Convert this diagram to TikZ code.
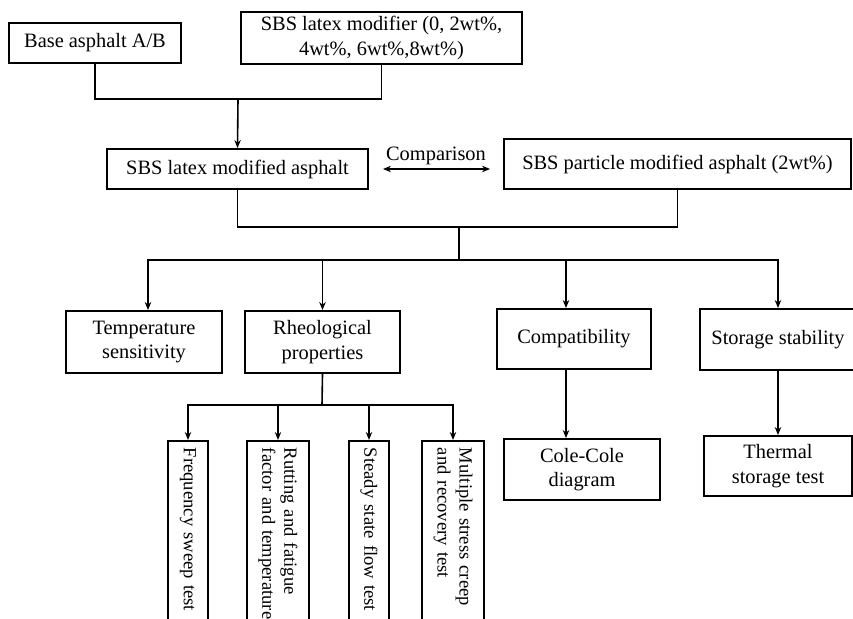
\documentclass[tikz,border=0pt]{standalone}
\usepackage{fontspec}
\setmainfont{Liberation Serif}
\usetikzlibrary{arrows.meta,calc}

\tikzset{
    box/.style={draw, line width=0.9pt, align=center, inner sep=2pt,
        font=\fontsize{10.2}{12.3}\selectfont},
    vbox/.style={draw, line width=0.9pt, rotate=-90, anchor=west, align=left,
        inner xsep=3.5pt, inner ysep=1pt, text width=93pt, minimum width=100pt,
        font=\fontsize{9.3}{11}\selectfont},
    link/.style={line width=0.8pt},
    arr/.style={line width=0.8pt, -{Stealth[length=4pt,width=3.2pt]}},
    cmp/.style={line width=0.8pt, {Stealth[length=4pt,width=3.2pt]}-{Stealth[length=4pt,width=3.2pt]}}
}

\begin{document}
\begin{tikzpicture}[x=0.5pt, y=-0.5pt]
    \useasboundingbox (0,0) rectangle (853,619);

    % Raw materials
    \node[box, minimum width=86pt, minimum height=20pt] (base) at (95,43) {Base asphalt A/B};
    \node[box, minimum width=140.5pt, minimum height=24pt] (modif) at (381.5,38)
        {SBS latex modifier (0, 2wt\%,\\4wt\%, 6wt\%,8wt\%)};

    % Modified binders
    \node[box, minimum width=130.5pt, minimum height=20pt] (latex) at (237.5,169) {SBS latex modified asphalt};
    \node[box, minimum width=173.5pt, minimum height=25pt] (particle) at (677.5,164)
        {SBS particle modified asphalt (2wt\%)};

    % Properties
    \node[box, minimum width=78pt, minimum height=31pt] (temp) at (144,342) {Temperature\\sensitivity};
    \node[box, minimum width=77.5pt, minimum height=31pt] (rheo) at (322.5,342) {Rheological\\properties};
    \node[box, minimum width=77pt, minimum height=30pt] (compat) at (574,339) {Compatibility};
    \node[box, minimum width=78pt, minimum height=30.5pt] (storage) at (778,339.5) {Storage stability};

    % Tests
    \node[box, minimum width=78pt, minimum height=30.5pt] (cole) at (582,469.5) {Cole-Cole\\diagram};
    \node[box, minimum width=74pt, minimum height=30pt] (thermal) at (778,466) {Thermal\\storage test};
    \node[vbox, minimum height=20pt] (freq) at (188,440) {Frequency sweep test};
    \node[vbox, minimum height=31pt] (rut) at (278,440) {Rutting and fatigue\\factor and temperature};
    \node[vbox, minimum height=20pt] (steady) at (369,440) {Steady state flow test};
    \node[vbox, minimum height=31pt] (multi) at (453,440) {Multiple stress creep\\and recovery test};

    % Joins
    \coordinate (j1) at (238,99);
    \draw[link] (base.south) |- (j1) -| (modif.south);
    \draw[arr] (j1) -- (latex.north);

    \draw[cmp, shorten <=7pt, shorten >=6.5pt] (latex.east) -- (particle.west |- latex.east)
        node[midway, above, inner sep=1.5pt, font=\fontsize{10.2}{12}\selectfont] {Comparison};

    \coordinate (j2) at (459,227);
    \coordinate (bus) at (459,260);
    \draw[link] (latex.south) |- (j2) -| (particle.south);
    \draw[link] (j2) -- (bus);
    \draw[arr] (bus) -| ([xshift=2pt]temp.north);
    \draw[arr] (bus) -| (rheo.north);
    \draw[arr] (bus) -| ([xshift=-4pt]compat.north);
    \draw[arr] (bus) -| (storage.north);

    \draw[arr] ([xshift=-4pt]compat.south) -- ([xshift=-4pt]compat.south |- cole.north);
    \draw[arr] (storage.south) -- (thermal.north);

    \coordinate (bus2) at (322,405);
    \draw[link] (rheo.south) -- (bus2);
    \foreach \t in {freq,rut,steady,multi} {
        \draw[arr] (bus2) -| (\t.west);
    }
\end{tikzpicture}
\end{document}
